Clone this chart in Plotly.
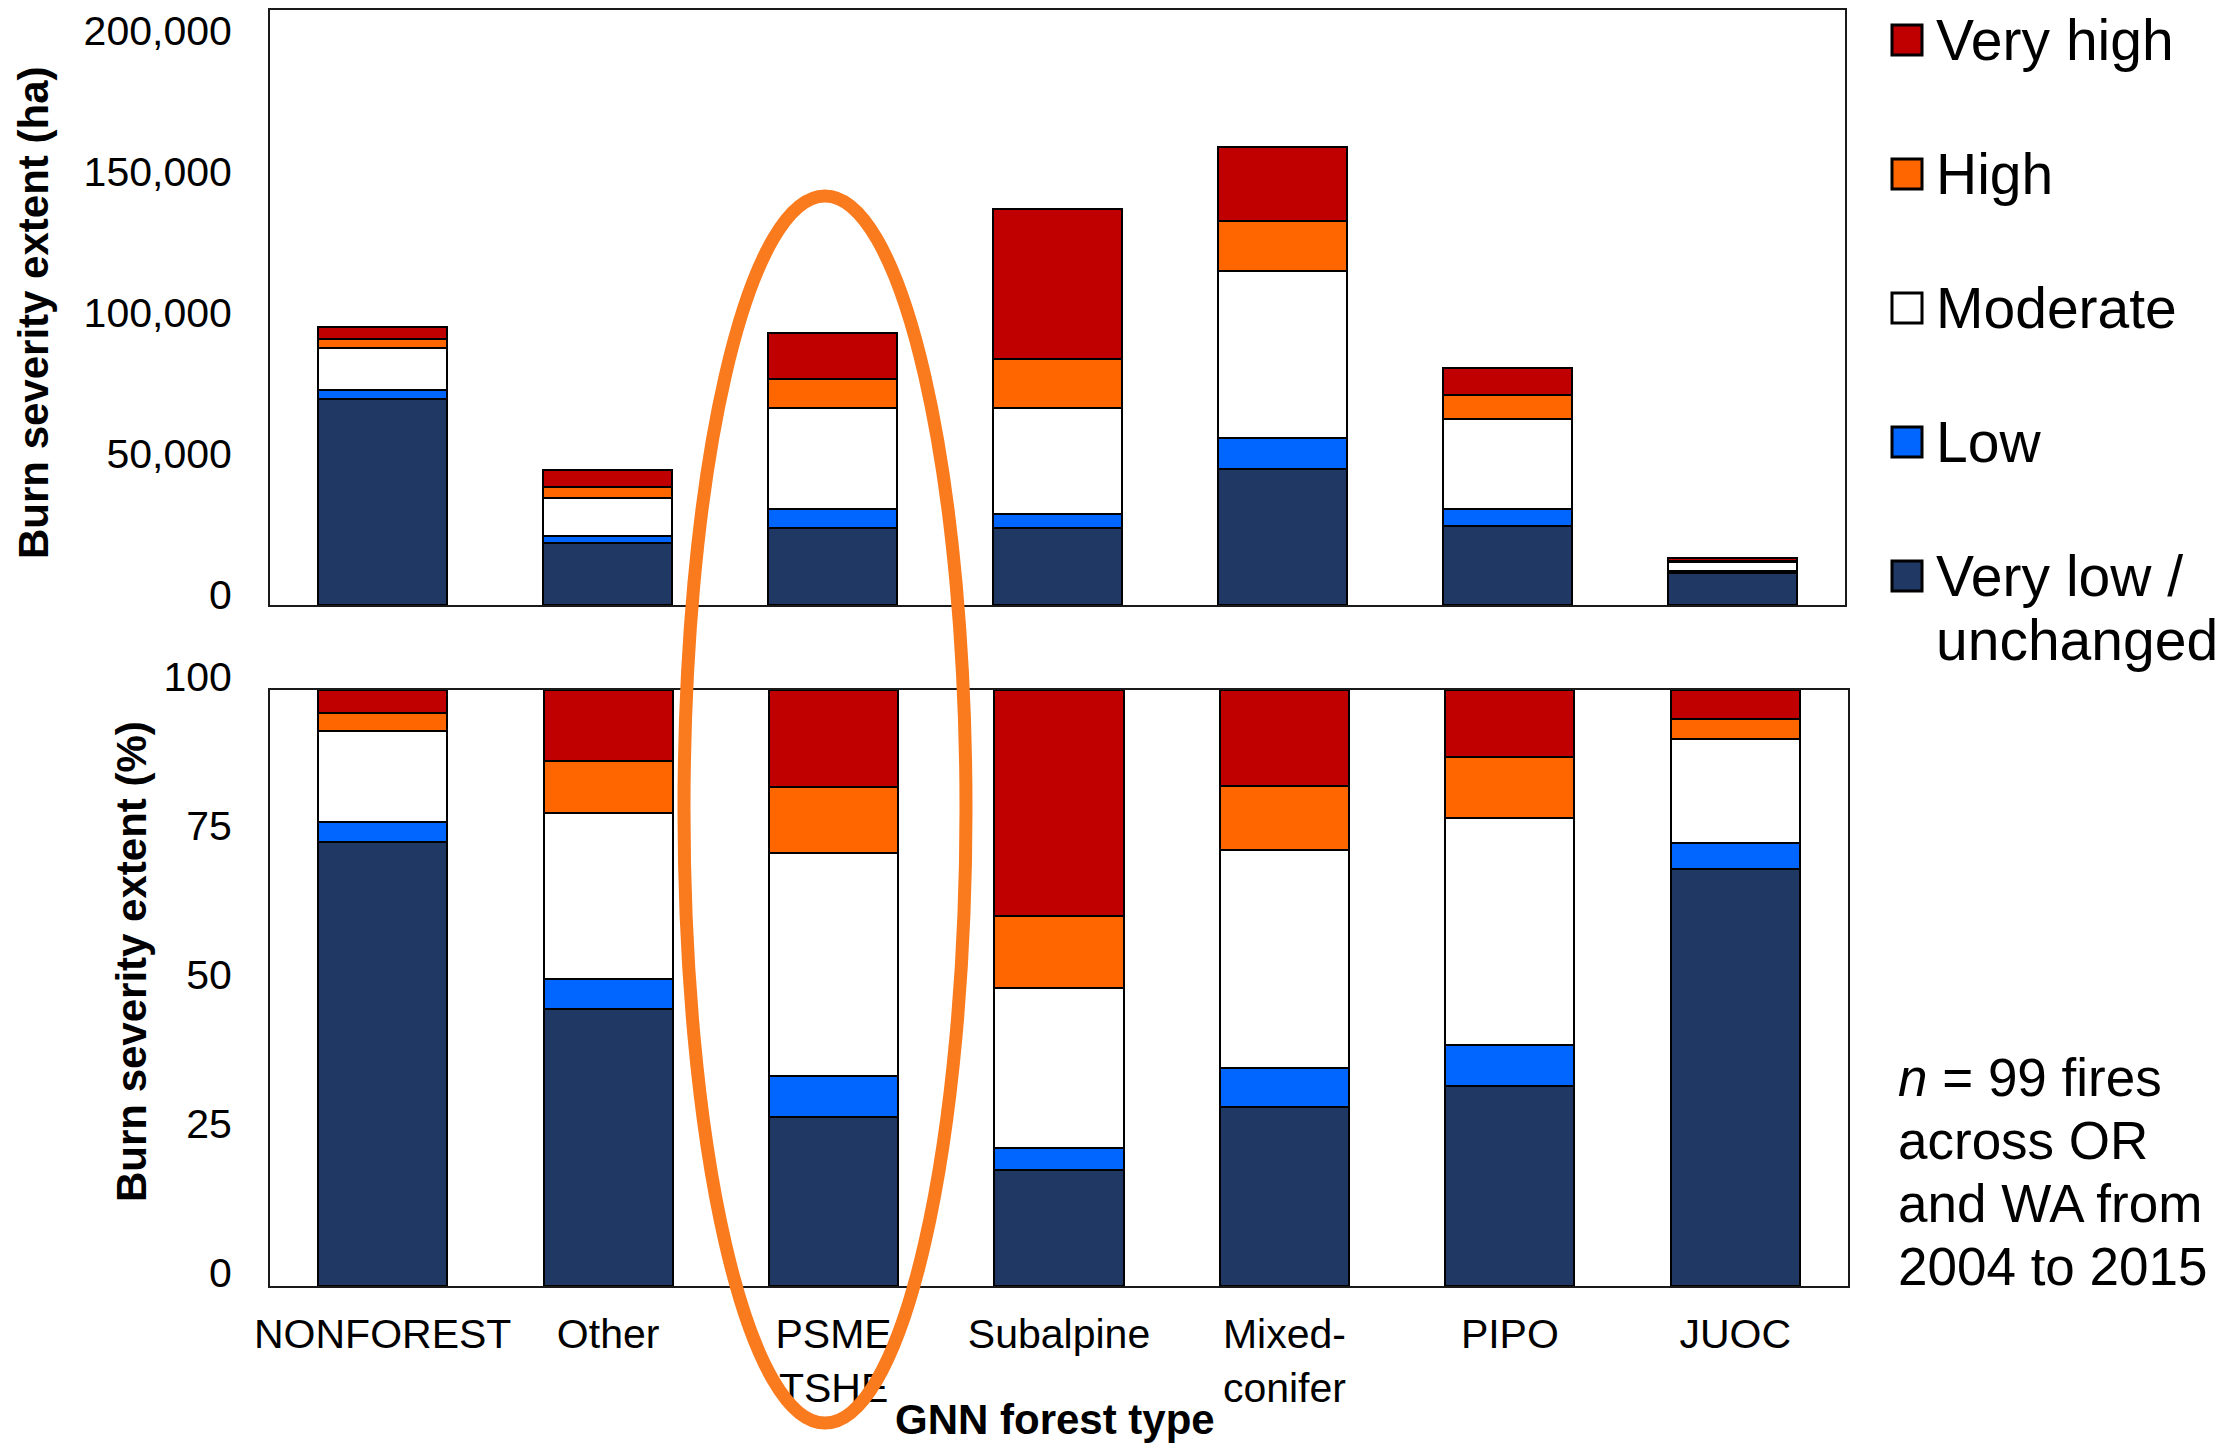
import plotly.graph_objects as go

W, H = 2229, 1444
OFF = 8  # default page body margin in the browser

categories = ["NONFOREST", "Other", "PSME<br>TSHE", "Subalpine", "Mixed-<br>conifer", "PIPO", "JUOC"]
severity_names = ["Very low /\nunchanged", "Low", "Moderate", "High", "Very high"]
severity_colors = ["#203864", "#0066FF", "#FFFFFF", "#FF6600", "#C00000"]

# Burn severity extent (ha)
ha_very_low = [72900, 22000, 27200, 27300, 48400, 28000, 11500]
ha_low = [3500, 2500, 6700, 4900, 11000, 5900, 700]
ha_moderate = [14900, 13300, 35900, 37800, 58900, 32000, 2900]
ha_high = [3100, 4200, 10500, 17100, 17800, 8700, 600]
ha_very_high = [4100, 5900, 16000, 53400, 26200, 9500, 800]

# Burn severity extent (%)
pct_very_low = [74.5, 46.5, 28.4, 19.5, 30.0, 33.5, 70.0]
pct_low = [3.4, 5.0, 6.9, 3.6, 6.6, 7.0, 4.3]
pct_moderate = [15.3, 27.9, 37.4, 26.9, 36.5, 38.0, 17.4]
pct_high = [3.0, 8.7, 11.0, 12.1, 10.8, 10.2, 3.4]
pct_very_high = [3.8, 11.9, 16.3, 37.9, 16.1, 11.3, 4.9]

ha_ticks = [0, 50000, 100000, 150000, 200000]
pct_ticks = [0, 25, 50, 75, 100]
note_lines = ["<i>n</i> = 99 fires", "across OR", "and WA from", "2004 to 2015"]

FONT = "Arial, Liberation Sans, Helvetica, sans-serif"

FW, FH = W - OFF, H - OFF


def px(x):
    return (x - OFF) / FW


def py(y):
    return 1 - (y - OFF) / FH


ha_series = [ha_very_low, ha_low, ha_moderate, ha_high, ha_very_high]
pct_series = [pct_very_low, pct_low, pct_moderate, pct_high, pct_very_high]

fig = go.Figure()
for name, color, vals in zip(severity_names, severity_colors, ha_series):
    fig.add_trace(go.Bar(x=categories, y=vals, name=name.replace("\n", " "),
                         marker=dict(color=color, line=dict(color="#000000", width=2)),
                         xaxis="x", yaxis="y", showlegend=False))
for name, color, vals in zip(severity_names, severity_colors, pct_series):
    fig.add_trace(go.Bar(x=categories, y=vals, name=name.replace("\n", " "),
                         marker=dict(color=color, line=dict(color="#000000", width=2)),
                         xaxis="x2", yaxis="y2", showlegend=False))

axis_common = dict(showline=True, mirror=True, linecolor="#1a1a1a", linewidth=2,
                   showgrid=False, zeroline=False, ticks="", automargin=False,
                   ticklabeloverflow="allow",
                   tickfont=dict(family=FONT, size=41, color="#000000"))

fig.update_layout(
    width=FW, height=FH,
    margin=dict(l=0, r=0, t=0, b=0, pad=0, autoexpand=False),
    paper_bgcolor="white", plot_bgcolor="white",
    barmode="stack", bargap=0.427,
    showlegend=False,
    font=dict(family=FONT, color="#000000"),
    xaxis=dict(domain=[px(270), px(1845)], anchor="y", showticklabels=False,
               categoryorder="array", categoryarray=categories, **axis_common),
    yaxis=dict(domain=[py(605), py(10)], anchor="x", range=[0, 211000],
               tickvals=ha_ticks, tickformat=",", ticklabelshift=-10,
               ticklabelstandoff=28, **axis_common),
    xaxis2=dict(domain=[px(270), px(1848)], anchor="y2",
                categoryorder="array", categoryarray=categories,
                ticklabelstandoff=11, **axis_common),
    yaxis2=dict(domain=[py(1286), py(690)], anchor="x2", range=[0, 100],
                tickvals=pct_ticks, ticklabelshift=-13, ticklabelstandoff=28,
                **axis_common),
)

annotations = []
shapes = []

# axis titles
annotations.append(dict(text="<b>Burn severity extent (ha)</b>", xref="paper", yref="paper",
                        x=px(33), y=py(313), textangle=-90, showarrow=False,
                        xanchor="center", yanchor="middle",
                        font=dict(family=FONT, size=42, color="#000000")))
annotations.append(dict(text="<b>Burn severity extent (%)</b>", xref="paper", yref="paper",
                        x=px(131), y=py(962), textangle=-90, showarrow=False,
                        xanchor="center", yanchor="middle",
                        font=dict(family=FONT, size=42, color="#000000")))
annotations.append(dict(text="<b>GNN forest type</b>", xref="paper", yref="paper",
                        x=px(1055), y=py(1419), showarrow=False,
                        xanchor="center", yanchor="middle",
                        font=dict(family=FONT, size=42, color="#000000")))

# manual legend (top = Very high)
legend_top = 40
legend_pitch = 134
for i, (name, color) in enumerate(zip(severity_names[::-1], severity_colors[::-1])):
    cy = legend_top + i * legend_pitch
    shapes.append(dict(type="rect", xref="paper", yref="paper",
                       x0=px(1892), x1=px(1922), y0=py(cy + 15), y1=py(cy - 15),
                       fillcolor=color, line=dict(color="#000000", width=3)))
    for j, line in enumerate(name.split("\n")):
        annotations.append(dict(text=line, xref="paper", yref="paper",
                                x=px(1934), y=py(cy + j * 64), showarrow=False,
                                xanchor="left", yanchor="middle",
                                font=dict(family=FONT, size=57, color="#000000")))

# note text
for j, line in enumerate(note_lines):
    annotations.append(dict(text=line, xref="paper", yref="paper",
                            x=px(1896), y=py(1077 + j * 63), showarrow=False,
                            xanchor="left", yanchor="middle",
                            font=dict(family=FONT, size=53, color="#000000")))

# orange highlight ellipse
shapes.append(dict(type="circle", xref="paper", yref="paper", layer="above",
                   x0=px(684), x1=px(966), y0=py(1423), y1=py(196),
                   line=dict(color="#FA7A1E", width=13)))

fig.update_layout(annotations=annotations, shapes=shapes)
fig.write_html("out.html")
